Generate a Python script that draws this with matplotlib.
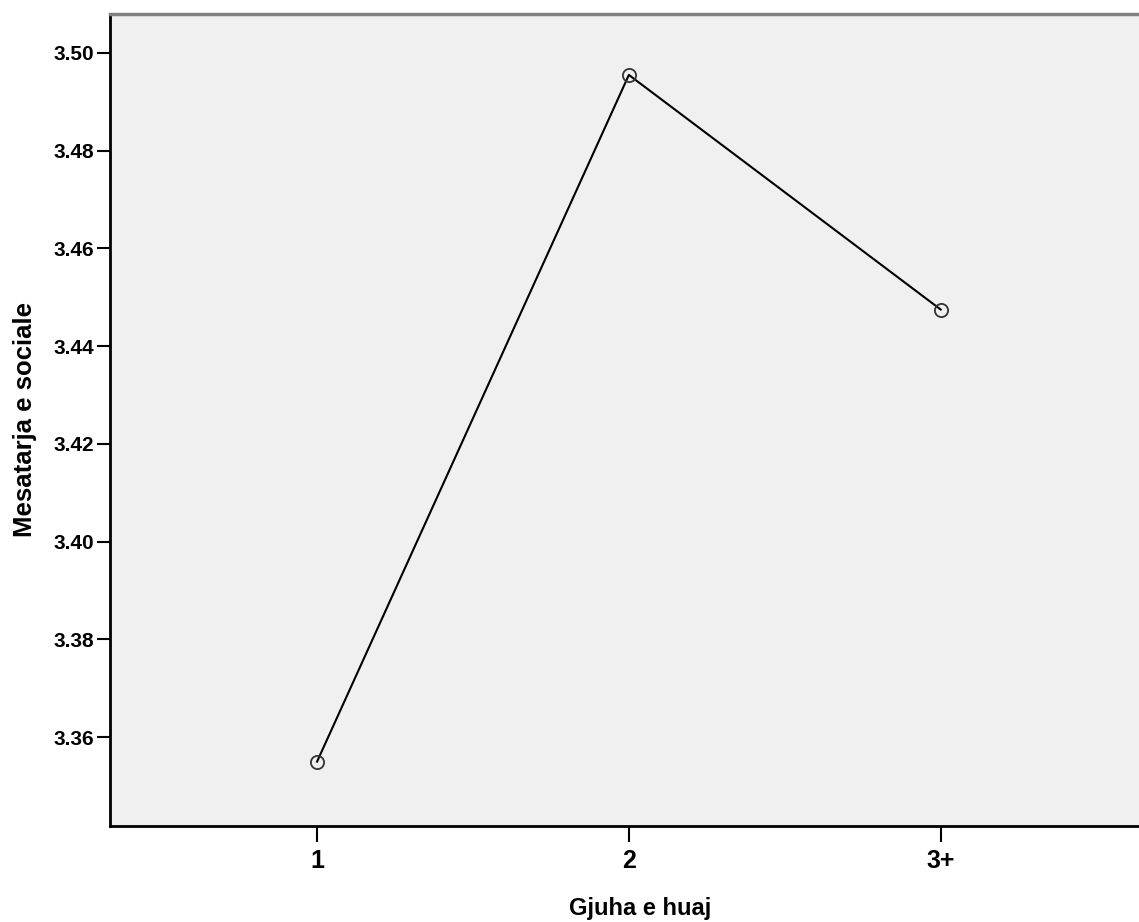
import matplotlib
matplotlib.use("Agg")
import matplotlib.pyplot as plt

# --- Data ---
categories = ["1", "2", "3+"]
means = [3.355, 3.4955, 3.4475]
y_ticks = [3.36, 3.38, 3.40, 3.42, 3.44, 3.46, 3.48, 3.50]

plt.rcParams["font.family"] = ["Liberation Sans", "DejaVu Sans"]
tick_font = ["Liberation Sans Narrow", "Liberation Sans", "DejaVu Sans"]

fig = plt.figure(figsize=(11.39, 9.22), dpi=100)
ax = fig.add_axes([0.0966, 0.104, 0.9034, 0.881])
ax.set_facecolor("#f0f0f0")

x = list(range(1, len(categories) + 1))
ax.plot(x, means, color="black", linewidth=1.5,
        marker="o", markersize=9.5, markerfacecolor="none",
        markeredgecolor="#333333", markeredgewidth=1.3)

ax.set_xlim(0.336, 3.636)
ax.set_ylim(3.3418, 3.508)
ax.set_xticks(x)
ax.set_xticklabels(categories, family=tick_font, fontsize=18, fontweight="bold")
ax.set_yticks(y_ticks)
ax.set_yticklabels([f"{v:.2f}" for v in y_ticks], family=tick_font,
                   fontsize=15, fontweight="bold")

ax.tick_params(axis="x", length=11.5, width=1.5, pad=5)
ax.tick_params(axis="y", length=9.5, width=1.5, pad=2)

ax.spines["right"].set_visible(False)
ax.spines["left"].set_linewidth(2)
ax.spines["bottom"].set_linewidth(2)
ax.spines["top"].set_linewidth(2.5)
ax.spines["top"].set_color("#808080")

ax.set_xlabel("Gjuha e huaj", fontsize=17, fontweight="bold", labelpad=17)
ax.xaxis.label.set_x(0.515)
ax.set_ylabel("Mesatarja e sociale", fontsize=18.5, fontweight="bold", labelpad=12)

fig.savefig("out.png", dpi=100)
